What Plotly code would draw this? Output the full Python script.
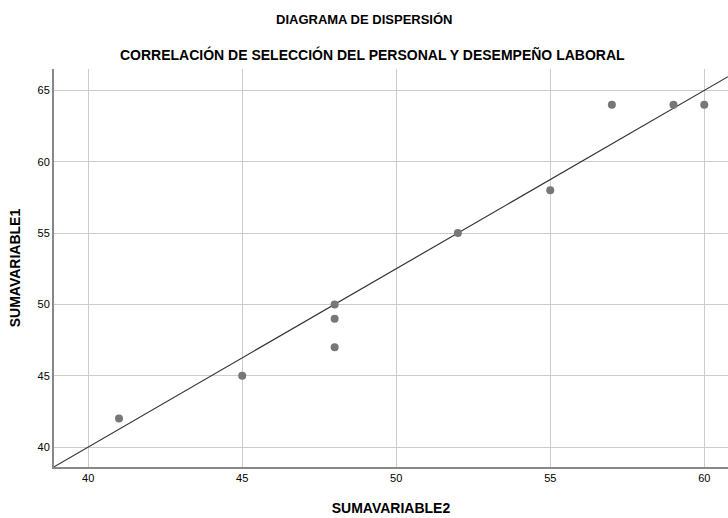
import plotly.graph_objects as go

sum_var2 = [41, 45, 48, 48, 48, 52, 55, 57, 59, 60]
sum_var1 = [42, 45, 50, 49, 47, 55, 58, 64, 64, 64]
fit_intercept = -10.0
fit_slope = 1.25
x_range = [38.89, 60.77]
y_range = [38.6, 66.5]

FONT = "Liberation Sans Narrow, Arial Narrow, Liberation Sans, Arial"

fig = go.Figure()
fig.add_trace(go.Scatter(
    x=x_range, y=[fit_intercept + fit_slope * v for v in x_range],
    mode="lines", line=dict(color="#333333", width=1.2),
    hoverinfo="skip", showlegend=False))
fig.add_trace(go.Scatter(
    x=sum_var2, y=sum_var1, mode="markers",
    marker=dict(color="#777777", size=8), showlegend=False))

fig.update_layout(
    width=728, height=518,
    margin=dict(l=54, r=0, t=69, b=51),
    paper_bgcolor="white", plot_bgcolor="white",
    font=dict(family=FONT, color="#000000"),
)
fig.add_annotation(text="<b>DIAGRAMA DE DISPERSIÓN</b>", xref="paper", yref="paper",
                   x=(364 - 54) / 674, y=1 + (69 - 20) / 398, showarrow=False,
                   font=dict(size=13, family=FONT), yanchor="middle")
fig.add_annotation(text="<b>CORRELACIÓN DE SELECCIÓN DEL PERSONAL Y DESEMPEÑO LABORAL</b>",
                   xref="paper", yref="paper",
                   x=(372 - 54) / 674, y=1 + (69 - 55) / 398, showarrow=False,
                   font=dict(size=14, family=FONT), yanchor="middle")

fig.update_xaxes(
    range=x_range, tickvals=[40, 45, 50, 55, 60], showgrid=True,
    gridcolor="#cccccc", gridwidth=1, showline=True, linecolor="#888888", linewidth=2,
    zeroline=False, ticks="", tickfont=dict(size=11, family=FONT),
    title=dict(text="<b>SUMAVARIABLE2</b>", font=dict(size=14, family=FONT), standoff=20))
fig.update_yaxes(
    range=y_range, tickvals=[40, 45, 50, 55, 60, 65], showgrid=True,
    gridcolor="#cccccc", gridwidth=1, showline=True, linecolor="#888888", linewidth=2,
    zeroline=False, ticks="", tickfont=dict(size=11, family=FONT),
    title=dict(text="<b>SUMAVARIABLE1</b>", font=dict(size=14, family=FONT), standoff=14))

fig.write_html("out.html", config={"displayModeBar": False},
               post_script="document.body.style.margin='0';document.body.style.overflow='hidden';")
